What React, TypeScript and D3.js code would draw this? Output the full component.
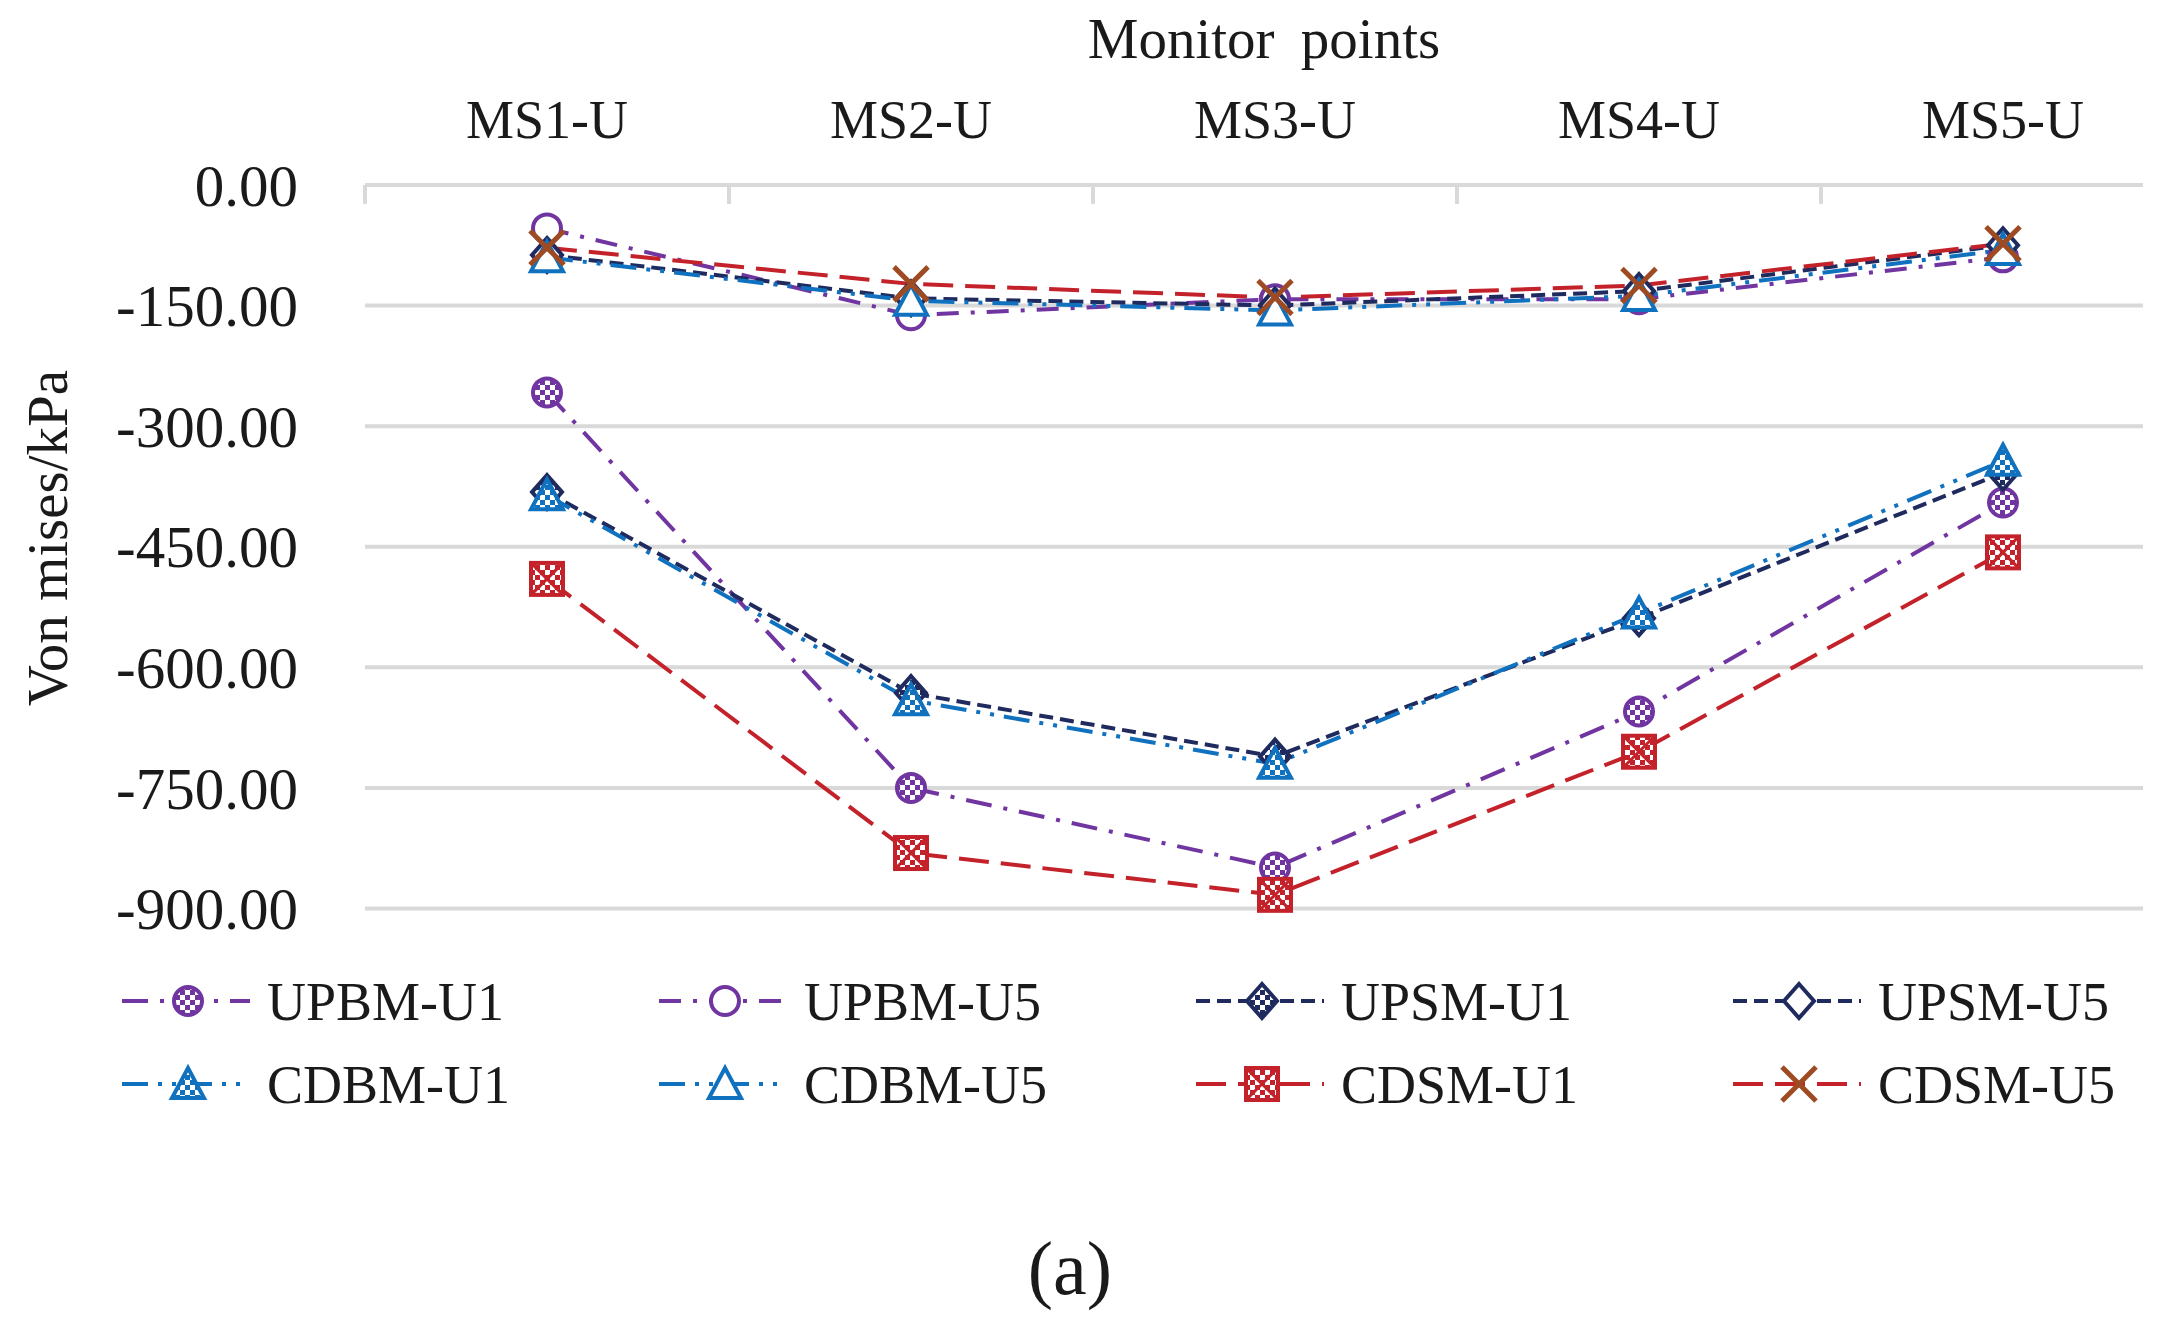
import React from 'react';
import * as d3 from 'd3';

const categories = ['MS1-U', 'MS2-U', 'MS3-U', 'MS4-U', 'MS5-U'];
const yTickValues = [0, -150, -300, -450, -600, -750, -900];

const upbmU1 = [-258, -750, -849, -655, -395];
const upbmU5 = [-54, -162, -142, -142, -90];
const upsmU1 = [-382, -632, -711, -539, -358];
const upsmU5 = [-87, -141, -150, -132, -75];
const cdbmU1 = [-386, -641, -720, -533, -343];
const cdbmU5 = [-90, -144, -156, -138, -81];
const cdsmU1 = [-490, -831, -883, -705, -457];
const cdsmU5 = [-78, -123, -140, -125, -73];

const seriesNames = ['UPBM-U1', 'UPBM-U5', 'UPSM-U1', 'UPSM-U5', 'CDBM-U1', 'CDBM-U5', 'CDSM-U1', 'CDSM-U5'];

const PURPLE = '#7035a0';
const NAVY = '#1f2a5e';
const BLUE = '#1071bf';
const RED = '#c4222b';
const BROWN = '#9e4a22';

type Style = { color: string; dash: string; marker: string; filled: boolean; pattern?: string; markerColor?: string };

const styles: Style[] = [
  { color: PURPLE, dash: '26,12,4,12', marker: 'circle', filled: true, pattern: 'chk-purple' },
  { color: PURPLE, dash: '22,12,4,12', marker: 'circle', filled: false },
  { color: NAVY, dash: '14,7', marker: 'diamond', filled: true, pattern: 'chk-navy' },
  { color: NAVY, dash: '14,7', marker: 'diamond', filled: false },
  { color: BLUE, dash: '26,10,4,10,4,10', marker: 'triangle', filled: true, pattern: 'chk-blue' },
  { color: BLUE, dash: '26,10,4,10,4,10', marker: 'triangle', filled: false },
  { color: RED, dash: '30,12', marker: 'square', filled: true, pattern: 'chk-red' },
  { color: RED, dash: '30,12', marker: 'x', filled: false, markerColor: BROWN },
];

const seriesValues = [upbmU1, upbmU5, upsmU1, upsmU5, cdbmU1, cdbmU5, cdsmU1, cdsmU5];

const W = 2165;
const H = 1331;
const FONT = '"Liberation Serif", "Times New Roman", serif';

function Marker({ s, x, y }: { s: Style; x: number; y: number }) {
  const c = s.markerColor || s.color;
  const fill = s.filled ? `url(#${s.pattern})` : '#ffffff';
  const sw = 4;
  if (s.marker === 'circle') {
    return <circle cx={x} cy={y} r={14} fill={fill} stroke={c} strokeWidth={sw} />;
  }
  if (s.marker === 'diamond') {
    const p = `${x},${y - 17} ${x + 15},${y} ${x},${y + 17} ${x - 15},${y}`;
    return <polygon points={p} fill={fill} stroke={c} strokeWidth={sw} strokeLinejoin="miter" />;
  }
  if (s.marker === 'triangle') {
    const p = `${x},${y - 16} ${x + 16},${y + 14} ${x - 16},${y + 14}`;
    return <polygon points={p} fill={fill} stroke={c} strokeWidth={sw} strokeLinejoin="miter" />;
  }
  if (s.marker === 'square') {
    return (
      <g>
        <rect x={x - 16} y={y - 16} width={32} height={32} fill={fill} stroke={c} strokeWidth={sw} />
        <line x1={x - 14} y1={y - 14} x2={x + 14} y2={y + 14} stroke={c} strokeWidth={3} />
        <line x1={x + 14} y1={y - 14} x2={x - 14} y2={y + 14} stroke={c} strokeWidth={3} />
      </g>
    );
  }
  return (
    <g>
      <line x1={x - 17} y1={y - 17} x2={x + 17} y2={y + 17} stroke={c} strokeWidth={5} />
      <line x1={x + 17} y1={y - 17} x2={x - 17} y2={y + 17} stroke={c} strokeWidth={5} />
    </g>
  );
}

function Checker({ id, color }: { id: string; color: string }) {
  return (
    <pattern id={id} patternUnits="userSpaceOnUse" width={10} height={10}>
      <rect x={0} y={0} width={10} height={10} fill="#ffffff" />
      <rect x={0} y={0} width={5} height={5} fill={color} />
      <rect x={5} y={5} width={5} height={5} fill={color} />
    </pattern>
  );
}

const fmt = (v: number) => d3.format('.2f')(v).replace('\u2212', '-');

export default function App() {
  const plotLeft = 365;
  const band = 364;
  const gridRight = 2143;
  const x = d3
    .scaleBand<string>()
    .domain(categories)
    .range([plotLeft, plotLeft + band * categories.length])
    .paddingInner(0)
    .paddingOuter(0);
  const cx = (c: string) => (x(c) as number) + x.bandwidth() / 2;
  const y = d3.scaleLinear().domain([0, -900]).range([185, 908.5]);

  const line = d3
    .line<number>()
    .x((_, i) => cx(categories[i]))
    .y((v) => y(v));

  const legendCols = [122, 659, 1196, 1733];
  const legendRows = [1001, 1084];

  return (
    <div style={{ position: 'absolute', left: 0, top: 0, width: W, height: H, background: '#fff' }}>
      <svg width={W} height={H} viewBox={`0 0 ${W} ${H}`} style={{ display: 'block' }}>
        <defs>
          <Checker id="chk-purple" color={PURPLE} />
          <Checker id="chk-navy" color={NAVY} />
          <Checker id="chk-blue" color={BLUE} />
          <Checker id="chk-red" color={RED} />
        </defs>
        <rect x={0} y={0} width={W} height={H} fill="#ffffff" />

        {/* gridlines */}
        {yTickValues.map((v) => (
          <line key={v} x1={plotLeft} x2={gridRight} y1={y(v)} y2={y(v)} stroke="#d9d9d9" strokeWidth={4} />
        ))}
        {/* category tick marks on top axis */}
        {categories.map((c) => (
          <line
            key={'t' + c}
            x1={x(c) as number}
            x2={x(c) as number}
            y1={y(0)}
            y2={y(0) + 19}
            stroke="#d9d9d9"
            strokeWidth={4}
          />
        ))}

        {/* y tick labels */}
        {yTickValues.map((v) => (
          <text
            key={'l' + v}
            x={298}
            y={y(v)}
            dy="0.35em"
            textAnchor="end"
            fontFamily={FONT}
            fontSize={59}
            fill="#1a1a1a"
          >
            {fmt(v)}
          </text>
        ))}

        {/* category labels */}
        {categories.map((c) => (
          <text key={'c' + c} x={cx(c)} y={138} textAnchor="middle" fontFamily={FONT} fontSize={54} fill="#1a1a1a">
            {c}
          </text>
        ))}

        {/* axis titles */}
        <text x={1264} y={58} textAnchor="middle" fontFamily={FONT} fontSize={57} wordSpacing={12} fill="#1a1a1a">
          Monitor points
        </text>
        <text
          transform={`translate(67,538) rotate(-90)`}
          textAnchor="middle"
          fontFamily={FONT}
          fontSize={57}
          fill="#1a1a1a"
        >
          Von mises/kPa
        </text>

        {/* series lines */}
        {seriesValues.map((vals, i) => (
          <path
            key={'p' + i}
            d={line(vals) || ''}
            fill="none"
            stroke={styles[i].color}
            strokeWidth={4}
            strokeDasharray={styles[i].dash}
            strokeLinecap="butt"
          />
        ))}
        {/* markers */}
        {seriesValues.map((vals, i) => (
          <g key={'m' + i}>
            {vals.map((v, j) => (
              <Marker key={j} s={styles[i]} x={cx(categories[j])} y={y(v)} />
            ))}
          </g>
        ))}

        {/* legend */}
        {seriesNames.map((name, i) => {
          const col = i % 4;
          const row = Math.floor(i / 4);
          const lx = legendCols[col];
          const ly = legendRows[row];
          return (
            <g key={'lg' + i}>
              <line
                x1={lx}
                x2={lx + 128}
                y1={ly}
                y2={ly}
                stroke={styles[i].color}
                strokeWidth={4}
                strokeDasharray={styles[i].dash}
              />
              <Marker s={styles[i]} x={lx + 66} y={ly} />
              <text x={lx + 145} y={ly} dy="0.35em" fontFamily={FONT} fontSize={54} fill="#1a1a1a">
                {name}
              </text>
            </g>
          );
        })}

        <text x={1070} y={1267} dy="0.35em" textAnchor="middle" fontFamily={FONT} fontSize={76} fill="#1a1a1a">
          (a)
        </text>
      </svg>
    </div>
  );
}
